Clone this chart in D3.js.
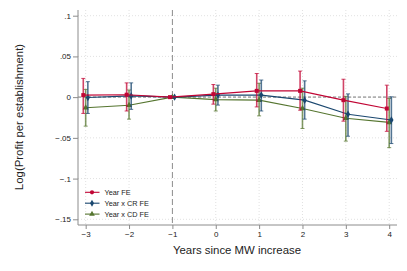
<!DOCTYPE html>
<html>
<head>
<meta charset="utf-8">
<script src="https://cdn.jsdelivr.net/npm/d3@7"></script>
<style>
  body { margin: 0; background: #fff; }
  text { font-family: "Liberation Sans", Arial, sans-serif; }
</style>
</head>
<body>
<div id="chart"></div>
<script>
// years relative to MW increase
let years = [-3, -2, -1, 0, 1, 2, 3, 4]

// point estimates and 95% CI
let yearFE     = [0.0025, 0.003, 0, 0.0037, 0.0077, 0.0077, -0.0037, -0.014]
let yearFELo   = [-0.020, -0.017, 0, -0.0086, -0.012, -0.016, -0.0295, -0.042]
let yearFEHi   = [0.023, 0.0175, 0, 0.0155, 0.029, 0.032, 0.022, 0.0147]

let crFE       = [-0.0005, 0.0015, 0, 0.0025, 0.0025, -0.0037, -0.021, -0.028]
let crFELo     = [-0.020, -0.015, 0, -0.0098, -0.017, -0.027, -0.048, -0.057]
let crFEHi     = [0.019, 0.0175, 0, 0.0147, 0.021, 0.020, 0.004, 0.0004]

let cdFE       = [-0.013, -0.010, 0, -0.003, -0.0037, -0.014, -0.026, -0.031]
let cdFELo     = [-0.0356, -0.027, 0, -0.017, -0.023, -0.0385, -0.054, -0.062]
let cdFEHi     = [0.0095, 0.0088, 0, 0.011, 0.017, 0.011, 0.001, -0.0016]

let yTicks = [0.1, 0.05, 0, -0.05, -0.1, -0.15]
let yTickLabels = [".1", ".05", "0", "\u2212.05", "\u2212.1", "\u2212.15"]
let xTickLabels = ["\u22123", "\u22122", "\u22121", "0", "1", "2", "3", "4"]

let width = 407, height = 271
let svg = d3.select("#chart").append("svg")
    .attr("width", width)
    .attr("height", height)

let pLeft = 78, pRight = 397, pTop = 10, pBottom = 225
let x = d3.scaleLinear().domain([-3.177, 4.18]).range([pLeft, pRight])
let y = d3.scaleLinear().domain([-0.157, 0.107]).range([pBottom, pTop])

//网格
let grid = svg.append("g")
grid.selectAll(".hgrid")
    .data(yTicks)
    .enter().append("line")
    .attr("x1", pLeft).attr("x2", pRight)
    .attr("y1", d => y(d)).attr("y2", d => y(d))
    .attr("stroke", "#d9d9d9")
    .attr("stroke-width", 0.8)
    .attr("stroke-dasharray", "1 2")
grid.selectAll(".vgrid")
    .data(years.filter(d => d != -1))
    .enter().append("line")
    .attr("x1", d => x(d)).attr("x2", d => x(d))
    .attr("y1", pTop).attr("y2", pBottom)
    .attr("stroke", "#d9d9d9")
    .attr("stroke-width", 0.8)
    .attr("stroke-dasharray", "1 2")

// reference lines
svg.append("line")
    .attr("x1", pLeft).attr("x2", pRight)
    .attr("y1", y(0)).attr("y2", y(0))
    .attr("stroke", "#b0b0b0")
    .attr("stroke-width", 1.6)
    .attr("stroke-dasharray", "3 2")
svg.append("line")
    .attr("x1", x(-1)).attr("x2", x(-1))
    .attr("y1", pTop).attr("y2", pBottom)
    .attr("stroke", "#8c8c8c")
    .attr("stroke-width", 1)
    .attr("stroke-dasharray", "6 3")

// axes
let yAxis = d3.axisLeft(y).tickValues(yTicks).tickSize(5).tickPadding(2)
    .tickFormat((d, i) => yTickLabels[i])
let gy = svg.append("g").attr("transform", `translate(${pLeft},0)`).call(yAxis)
let xAxis = d3.axisBottom(x).tickValues(years).tickSize(4).tickPadding(2.5)
    .tickFormat((d, i) => xTickLabels[i])
let gx = svg.append("g").attr("transform", `translate(0,${pBottom})`).call(xAxis)
;[gx, gy].forEach(g => {
    g.select(".domain").remove()
    g.selectAll(".tick line").attr("stroke", "#8c8c8c")
    g.selectAll(".tick text").attr("font-size", 8).attr("fill", "#222")
        .attr("font-family", "Liberation Sans, Arial, sans-serif")
})
svg.append("line").attr("x1", pLeft).attr("x2", pLeft).attr("y1", pTop).attr("y2", pBottom)
    .attr("stroke", "#8c8c8c")
svg.append("line").attr("x1", pLeft).attr("x2", pRight).attr("y1", pBottom).attr("y2", pBottom)
    .attr("stroke", "#8c8c8c")

svg.append("text")
    .attr("transform", `translate(23,117) rotate(-90)`)
    .attr("text-anchor", "middle")
    .attr("font-size", 11.4)
    .attr("fill", "#222")
    .text("Log(Profit per establishment)")
svg.append("text")
    .attr("x", 237).attr("y", 254)
    .attr("text-anchor", "middle")
    .attr("font-size", 11.4)
    .attr("fill", "#222")
    .text("Years since MW increase")

// series
let series = [
    { name: "Year FE", est: yearFE, lo: yearFELo, hi: yearFEHi, color: "#c10534", shift: -0.055, shape: d3.symbolSquare },
    { name: "Year x CR FE", est: crFE, lo: crFELo, hi: crFEHi, color: "#1a476f", shift: 0.05, shape: d3.symbolDiamond },
    { name: "Year x CD FE", est: cdFE, lo: cdFELo, hi: cdFEHi, color: "#55752f", shift: 0, shape: d3.symbolTriangle }
]

let line = d3.line().x(d => x(d[0])).y(d => y(d[1]))
let drawOrder = [2, 1, 0]
drawOrder.forEach(si => {
    let s = series[si]
    let g = svg.append("g")
    let pts = years.map((yr, i) => [yr + s.shift, s.est[i], s.lo[i], s.hi[i]])
    g.append("path")
        .attr("d", line(pts))
        .attr("fill", "none")
        .attr("stroke", s.color)
        .attr("stroke-width", 1.1)
    let ci = g.selectAll(".ci").data(pts.filter(d => d[2] != d[3])).enter().append("g")
        .attr("stroke", s.color)
        .attr("stroke-opacity", 0.75)
    ci.append("line")
        .attr("x1", d => x(d[0])).attr("x2", d => x(d[0]))
        .attr("y1", d => y(d[2])).attr("y2", d => y(d[3]))
        .attr("stroke-width", 1.6)
    ci.append("line")
        .attr("x1", d => x(d[0]) - 2).attr("x2", d => x(d[0]) + 2)
        .attr("y1", d => y(d[2])).attr("y2", d => y(d[2]))
        .attr("stroke-width", 1)
    ci.append("line")
        .attr("x1", d => x(d[0]) - 2).attr("x2", d => x(d[0]) + 2)
        .attr("y1", d => y(d[3])).attr("y2", d => y(d[3]))
        .attr("stroke-width", 1)
    g.selectAll(".pt").data(pts).enter().append("path")
        .attr("d", d3.symbol().type(s.shape).size(16))
        .attr("transform", d => `translate(${x(d[0])},${y(d[1])})`)
        .attr("fill", s.color)
})

// legend
let legend = svg.append("g")
series.forEach((s, i) => {
    let ly = 192.3 + i * 10.9
    legend.append("line")
        .attr("x1", 85).attr("x2", 99.5).attr("y1", ly).attr("y2", ly)
        .attr("stroke", s.color).attr("stroke-width", 1.1)
    legend.append("path")
        .attr("d", d3.symbol().type(i == 0 ? d3.symbolCircle : s.shape).size(14))
        .attr("transform", `translate(92,${ly})`)
        .attr("fill", s.color)
    legend.append("text")
        .attr("x", 104.5).attr("y", ly + 2.6)
        .attr("font-size", 7.3)
        .attr("fill", "#222")
        .text(s.name)
})
</script>
</body>
</html>
